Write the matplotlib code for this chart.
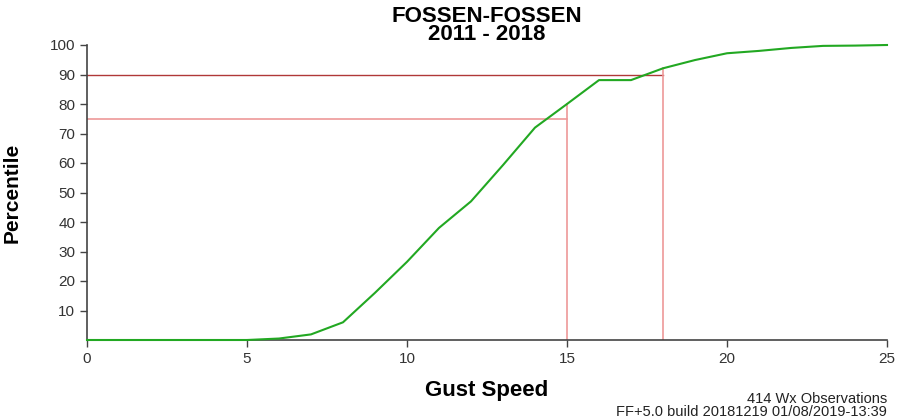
import matplotlib
matplotlib.use('Agg')
import matplotlib.pyplot as plt

plt.rcParams['font.family'] = ['Liberation Sans', 'DejaVu Sans']

gust_speed = [0, 1, 2, 3, 4, 5, 6, 7, 8, 9, 10, 11, 12, 13, 14, 15, 16, 17,
              18, 19, 20, 21, 22, 23, 24, 25]
percentile = [0, 0, 0, 0, 0, 0, 0.5, 1.9, 6.0, 16, 26.5, 38, 47, 59.3, 72,
              80, 88.1, 88.1, 92.1, 94.9, 97.2, 98, 99, 99.7, 99.8, 100]

# percentile markers: (percentile level, gust speed where it is reached)
p75 = (75, 15)
p90 = (90, 18)

title = 'FOSSEN-FOSSEN\n2011 - 2018'
footer = '414 Wx Observations\nFF+5.0 build 20181219 01/08/2019-13:39'

fig = plt.figure(figsize=(8.98, 4.2), dpi=100)
ax = fig.add_axes([87 / 898, 80 / 420, 800 / 898, 295 / 420])

ax.plot(gust_speed, percentile, color='#22a822', lw=1.5, zorder=3,
        clip_on=False)

# horizontal / vertical marker lines
val_at = dict(zip(gust_speed, percentile))
ax.plot([0, p90[1]], [p90[0], p90[0]], color='#b03838', lw=1.0, zorder=2)
ax.plot([p90[1], p90[1]], [0, val_at[p90[1]]], color='#ee9898', lw=1.2, zorder=2)
ax.plot([0, p75[1]], [p75[0], p75[0]], color='#ee9898', lw=1.2, zorder=2)
ax.plot([p75[1], p75[1]], [0, val_at[p75[1]]], color='#ee9898', lw=1.2, zorder=2)

ax.set_xlim(0, 25)
ax.set_ylim(0, 100)
ax.set_xticks([0, 5, 10, 15, 20, 25])
ax.set_yticks(range(10, 101, 10))

for s in ['top', 'right']:
    ax.spines[s].set_visible(False)
for s in ['left', 'bottom']:
    ax.spines[s].set_color('#444444')
    ax.spines[s].set_linewidth(1.2)
ax.tick_params(colors='#444444', labelcolor='#333333', labelsize=11,
               length=5, width=1)

ax.set_title(title, fontsize=16, fontweight='bold', linespacing=0.8, pad=1)
ax.set_xlabel('Gust Speed', fontsize=16, fontweight='bold', labelpad=10)
ax.set_ylabel('Percentile', fontsize=15, fontweight='bold', labelpad=20)

fig.text(887 / 898, 1 / 420, footer, ha='right', va='bottom',
         multialignment='right', fontsize=10.5, linespacing=0.95,
         color='#222222')

fig.savefig('out.png', dpi=100)
